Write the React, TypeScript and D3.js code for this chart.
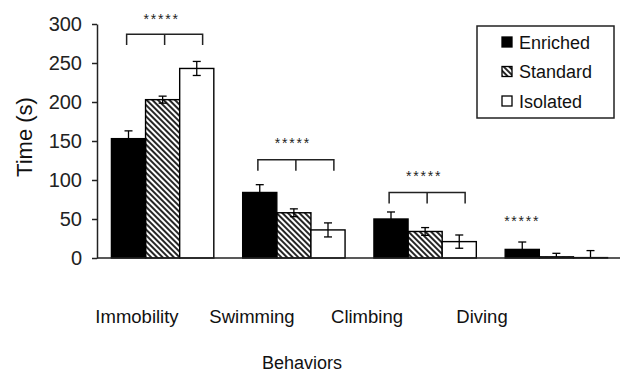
import React, { useEffect, useRef } from 'react';
import * as d3 from 'd3';

const categories = ['Immobility', 'Swimming', 'Climbing', 'Diving'];
const groups = ['Enriched', 'Standard', 'Isolated'];
const enriched = [153, 84, 50, 11];
const standard = [203, 58, 34, 1.5];
const isolated = [243, 36, 21, 0.5];
const enrichedErr = [10, 10, 9, 9.5];
const standardErr = [4.5, 5, 5, 4.5];
const isolatedErr = [9, 9, 8.5, 9];
const yTicks = [0, 50, 100, 150, 200, 250, 300];
// significance marks: bracket level (null = stars only) and star level, in seconds
const bracketLevel = [287, 126, 84, null];
const starLevel = [309, 151, 108, 51];

function App() {
	const svgRef = useRef(null);

	useEffect(() => {
		const svg = d3.select(svgRef.current);
		svg.selectAll('*').remove();

		const y = d3.scaleLinear().domain([0, 300]).range([258, 24]);
		const x = d3.scaleBand().domain(categories).range([97, 622]).paddingInner(0.22).paddingOuter(0.11);
		const xSub = d3.scaleBand().domain(groups).range([0, x.bandwidth()]);
		const labelX = d3.scalePoint().domain(categories).range([137, 482]);

		const defs = svg.append('defs');
		defs.append('pattern')
			.attr('id', 'hatch')
			.attr('patternUnits', 'userSpaceOnUse')
			.attr('width', 4)
			.attr('height', 4)
			.attr('patternTransform', 'rotate(-45)')
			.append('line')
			.attr('x1', 1).attr('y1', 0).attr('x2', 1).attr('y2', 4)
			.attr('stroke', '#000')
			.attr('stroke-width', 1.7);

		const fills = { Enriched: '#000', Standard: 'url(#hatch)', Isolated: '#fff' };
		const series = { Enriched: enriched, Standard: standard, Isolated: isolated };
		const errs = { Enriched: enrichedErr, Standard: standardErr, Isolated: isolatedErr };

		const rows = [];
		categories.forEach((c, i) => {
			groups.forEach((g) => {
				rows.push({ c, g, v: series[g][i], e: errs[g][i] });
			});
		});

		svg.append('g')
			.selectAll('rect')
			.data(rows)
			.enter()
			.append('rect')
			.attr('x', (d) => x(d.c) + xSub(d.g))
			.attr('y', (d) => y(d.v))
			.attr('width', xSub.bandwidth())
			.attr('height', (d) => y(0) - y(d.v))
			.attr('fill', (d) => fills[d.g])
			.attr('stroke', '#000')
			.attr('stroke-width', 1.4);

		// error bars
		const eb = svg.append('g').attr('stroke', '#000').attr('stroke-width', 1.3);
		rows.forEach((d) => {
			const cx = x(d.c) + xSub(d.g) + xSub.bandwidth() / 2;
			const top = y(d.v + d.e);
			const lowV = Math.max(0, d.v - d.e);
			const bot = d.g === 'Enriched' ? y(d.v) : y(lowV);
			eb.append('line').attr('x1', cx).attr('x2', cx).attr('y1', top).attr('y2', bot);
			eb.append('line').attr('x1', cx - 4).attr('x2', cx + 4).attr('y1', top).attr('y2', top);
			if (d.g !== 'Enriched' && d.v - d.e > 0) {
				eb.append('line').attr('x1', cx - 4).attr('x2', cx + 4).attr('y1', bot).attr('y2', bot);
			}
		});

		// y axis
		const yAxis = svg.append('g')
			.attr('transform', 'translate(97,0)')
			.call(d3.axisLeft(y).tickValues(yTicks).tickSize(5).tickSizeOuter(0).tickPadding(10));
		yAxis.selectAll('path, line').attr('stroke', '#222').attr('stroke-width', 1.5);
		yAxis.selectAll('text')
			.attr('font-family', 'Liberation Sans, Arial, sans-serif')
			.attr('font-size', 20)
			.attr('fill', '#222');

		// x baseline
		svg.append('line')
			.attr('x1', 97).attr('x2', 620)
			.attr('y1', y(0)).attr('y2', y(0))
			.attr('stroke', '#222')
			.attr('stroke-width', 1.5);

		// significance brackets and stars
		categories.forEach((c, i) => {
			const mid = x(c) + xSub('Standard') + xSub.bandwidth() / 2 + 2;
			const lvl = bracketLevel[i];
			if (lvl !== null) {
				const legs = [mid - 38, mid, mid + 38];
				const top = y(lvl);
				const drop = y(lvl - 14);
				svg.append('path')
					.attr('d', `M${legs[0]},${drop}V${top}H${legs[2]}V${drop}M${legs[1]},${top}V${drop}`)
					.attr('fill', 'none')
					.attr('stroke', '#222')
					.attr('stroke-width', 1.5);
			}
			const sx = lvl !== null ? mid - 3 : x(c) + xSub('Enriched') + xSub.bandwidth() / 2;
			svg.append('text')
				.attr('x', sx)
				.attr('y', y(starLevel[i]) + 7.5)
				.attr('text-anchor', 'middle')
				.attr('font-family', 'Liberation Sans, Arial, sans-serif')
				.attr('font-size', 14)
				.attr('letter-spacing', 1.8)
				.attr('fill', '#222')
				.text('*****');
		});

		// category labels
		svg.append('g')
			.selectAll('text')
			.data(categories)
			.enter()
			.append('text')
			.attr('x', (d) => labelX(d))
			.attr('y', 323)
			.attr('text-anchor', 'middle')
			.attr('font-family', 'Liberation Sans, Arial, sans-serif')
			.attr('font-size', 18.5)
			.attr('fill', '#111')
			.text((d) => d);

		svg.append('text')
			.attr('x', 302)
			.attr('y', 369)
			.attr('text-anchor', 'middle')
			.attr('font-family', 'Liberation Sans, Arial, sans-serif')
			.attr('font-size', 18)
			.attr('fill', '#111')
			.text('Behaviors');

		svg.append('text')
			.attr('transform', 'translate(32,137) rotate(-90)')
			.attr('text-anchor', 'middle')
			.attr('font-family', 'Liberation Sans, Arial, sans-serif')
			.attr('font-size', 22)
			.attr('fill', '#111')
			.text('Time (s)');

		// legend
		const lg = svg.append('g');
		lg.append('rect')
			.attr('x', 477).attr('y', 26)
			.attr('width', 137).attr('height', 92)
			.attr('fill', '#fff')
			.attr('stroke', '#222')
			.attr('stroke-width', 1.5);
		groups.forEach((g, i) => {
			const cy = 42 + i * 29.5;
			lg.append('rect')
				.attr('x', 502).attr('y', cy - 5)
				.attr('width', 10).attr('height', 10)
				.attr('fill', fills[g])
				.attr('stroke', '#000')
				.attr('stroke-width', 1.3);
			lg.append('text')
				.attr('x', 519)
				.attr('y', cy + 6.5)
				.attr('font-family', 'Liberation Sans, Arial, sans-serif')
				.attr('font-size', 18)
				.attr('fill', '#111')
				.text(g);
		});
	}, []);

	return (
		<svg
			ref={svgRef}
			width={622}
			height={374}
			style={{ position: 'absolute', left: 0, top: 0, background: '#fff' }}
		></svg>
	);
}

export default App;
